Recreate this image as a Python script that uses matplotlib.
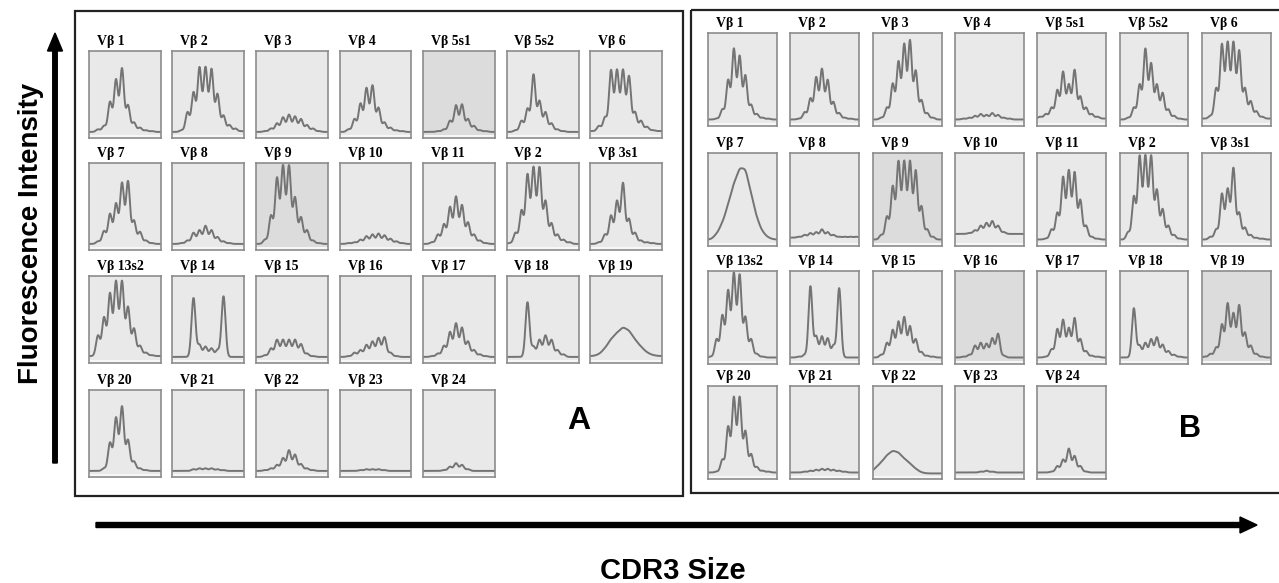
import numpy as np
import matplotlib
matplotlib.use("Agg")
import matplotlib.pyplot as plt
from matplotlib.patches import Rectangle, FancyArrow

# ---------------- data (peak heights as fraction of box height) ----------------
labels_A = [["Vβ 1", "Vβ 2", "Vβ 3", "Vβ 4", "Vβ 5s1", "Vβ 5s2", "Vβ 6"],
            ["Vβ 7", "Vβ 8", "Vβ 9", "Vβ 10", "Vβ 11", "Vβ 2", "Vβ 3s1"],
            ["Vβ 13s2", "Vβ 14", "Vβ 15", "Vβ 16", "Vβ 17", "Vβ 18", "Vβ 19"],
            ["Vβ 20", "Vβ 21", "Vβ 22", "Vβ 23", "Vβ 24"]]
labels_B = [["Vβ 1", "Vβ 2", "Vβ 3", "Vβ 4", "Vβ 5s1", "Vβ 5s2", "Vβ 6"],
            ["Vβ 7", "Vβ 8", "Vβ 9", "Vβ 10", "Vβ 11", "Vβ 2", "Vβ 3s1"],
            ["Vβ 13s2", "Vβ 14", "Vβ 15", "Vβ 16", "Vβ 17", "Vβ 18", "Vβ 19"],
            ["Vβ 20", "Vβ 21", "Vβ 22", "Vβ 23", "Vβ 24"]]

A_row1 = [[.07, .10, .14, .42, .68, .81, .38, .18, .12, .09, .08, .07],
          [.07, .09, .30, .53, .82, .82, .80, .51, .26, .15, .11, .08],
          [.07, .08, .11, .17, .24, .27, .25, .22, .15, .11, .08, .07],
          [.07, .10, .22, .40, .58, .61, .35, .18, .12, .09, .08, .07],
          [.07, .07, .08, .10, .20, .38, .39, .22, .14, .09, .08, .07],
          [.07, .09, .20, .34, .74, .43, .30, .17, .10, .08, .07, .07],
          [.08, .14, .24, .79, .79, .79, .72, .30, .20, .13, .09, .08]]
A_row2 = [[.07, .10, .22, .42, .54, .78, .80, .34, .21, .11, .08, .07],
          [.07, .08, .11, .20, .23, .28, .23, .15, .10, .08, .07, .07],
          [.07, .12, .40, .84, .98, .98, .61, .38, .23, .11, .08, .07],
          [.07, .08, .09, .12, .16, .18, .19, .17, .13, .10, .08, .07],
          [.07, .09, .18, .30, .50, .62, .52, .32, .18, .11, .08, .07],
          [.08, .20, .46, .88, .96, .96, .57, .31, .18, .12, .09, .07],
          [.07, .09, .18, .40, .57, .78, .36, .20, .11, .09, .08, .07]]
A_row3 = [[.08, .32, .53, .81, .95, .95, .65, .40, .20, .12, .09, .08],
          [.07, .07, .07, .76, .21, .19, .17, .15, .78, .07, .07, .07],
          [.07, .09, .17, .27, .27, .27, .27, .22, .11, .08, .07, .07],
          [.07, .08, .12, .15, .21, .25, .29, .30, .12, .08, .07, .07],
          [.07, .08, .11, .20, .36, .46, .41, .25, .15, .10, .08, .07],
          [.07, .07, .07, .71, .19, .27, .32, .27, .15, .10, .07, .07],
          [.08, .10, .17, .28, .35, .42, .38, .27, .19, .12, .09, .08]]
A_row4 = [[.07, .07, .10, .40, .69, .82, .43, .18, .10, .08, .07, .07],
          [.07, .07, .07, .09, .10, .10, .10, .09, .08, .07, .07, .07],
          [.07, .08, .10, .14, .22, .31, .26, .15, .10, .08, .07, .07],
          [.07, .07, .07, .08, .09, .09, .09, .08, .07, .07, .07, .07],
          [.07, .07, .07, .08, .12, .16, .14, .09, .07, .07, .07, .07]]

B_row1 = [[.07, .08, .18, .50, .84, .76, .55, .23, .13, .09, .08, .07],
          [.07, .08, .15, .30, .53, .62, .50, .26, .14, .09, .08, .07],
          [.07, .09, .20, .46, .70, .89, .93, .60, .28, .14, .09, .07],
          [.07, .08, .09, .11, .13, .12, .14, .12, .09, .08, .07, .07],
          [.10, .13, .20, .39, .59, .45, .61, .32, .20, .13, .10, .08],
          [.07, .09, .20, .45, .84, .68, .45, .36, .18, .11, .08, .07],
          [.08, .11, .41, .89, .91, .91, .82, .41, .27, .16, .10, .08]]
B_row2 = [[.07, .13, .25, .45, .68, .85, .85, .57, .30, .15, .09, .07],
          [.09, .10, .12, .14, .15, .18, .15, .12, .10, .10, .10, .10],
          [.07, .12, .32, .65, .92, .92, .92, .82, .43, .18, .10, .07],
          [.13, .13, .14, .17, .22, .25, .27, .22, .15, .13, .13, .13],
          [.07, .08, .18, .36, .75, .82, .80, .50, .22, .10, .08, .07],
          [.07, .15, .54, .98, .98, .98, .61, .40, .22, .12, .08, .07],
          [.07, .10, .18, .57, .62, .85, .36, .20, .12, .09, .08, .07]]
B_row3 = [[.08, .27, .53, .80, .99, .97, .51, .27, .11, .08, .07, .07],
          [.07, .08, .10, .85, .30, .30, .28, .20, .83, .07, .07, .07],
          [.07, .10, .23, .37, .46, .51, .41, .27, .13, .09, .08, .07],
          [.07, .08, .10, .20, .23, .22, .28, .33, .09, .07, .07, .07],
          [.07, .08, .16, .38, .48, .39, .50, .27, .14, .09, .08, .07],
          [.07, .07, .61, .20, .23, .27, .29, .21, .14, .10, .08, .07],
          [.08, .11, .18, .43, .66, .55, .64, .34, .20, .11, .08, .07]]
B_row4 = [[.07, .08, .21, .57, .89, .89, .52, .27, .13, .09, .08, .07],
          [.07, .07, .08, .09, .10, .11, .11, .10, .09, .08, .07, .07],
          [.12, .18, .26, .31, .29, .22, .17, .11, .07, .06, .06, .06],
          [.07, .07, .07, .07, .08, .09, .08, .07, .07, .07, .07, .07],
          [.07, .07, .08, .14, .21, .33, .25, .14, .08, .07, .07, .07]]

heights_A = [A_row1, A_row2, A_row3, A_row4]
heights_B = [B_row1, B_row2, B_row3, B_row4]

shaded_A = [(0, 4), (1, 2)]
shaded_B = [(1, 2), (2, 3), (2, 6)]
broad_A = [(2, 6)]
broad_B = [(1, 0), (3, 2)]

# ---------------- layout (pixels) ----------------
W, H = 1279, 583
fig = plt.figure(figsize=(W / 100, H / 100), dpi=100)
fig.patch.set_facecolor("white")

ax0 = fig.add_axes([0, 0, 1, 1])
ax0.set_xlim(0, W)
ax0.set_ylim(H, 0)
ax0.axis("off")

LABEL_FONT = dict(family=["Liberation Serif", "DejaVu Serif"], fontweight="bold", fontsize=10)
SANS = ["Liberation Sans", "DejaVu Sans"]


def spectrum(ax, h, broad):
    h = np.asarray(h, dtype=float)
    n = len(h)
    xc = (np.arange(n) + 0.5) / n
    base = h.min()
    sw = 0.55 if broad else 0.33
    s = sw / n
    k = np.arange(-6, 7)
    norm = np.exp(-0.5 * (k / sw) ** 2).sum()
    x = np.linspace(0, 1, 500)
    y = base + ((h - base)[None, :] *
                np.exp(-0.5 * ((x[:, None] - xc[None, :]) / s) ** 2)).sum(axis=1) / norm
    ax.plot(x, y, color="#747474", lw=1.4, solid_joinstyle="round")


def draw_grid(labels, heights, shaded, broad, x0, pitch_x, bw, row_tops, bh, lab_dy):
    for r, row in enumerate(labels):
        for c, lab in enumerate(row):
            left = x0 + c * pitch_x
            top = row_tops[r]
            ax = fig.add_axes([left / W, 1 - (top + bh) / H, bw / W, bh / H])
            fc = "#dcdcdc" if (r, c) in shaded else "#e9e9e9"
            ax.set_facecolor(fc)
            ax.set_xlim(0, 1)
            ax.set_ylim(0, 1)
            ax.set_xticks([])
            ax.set_yticks([])
            for sp in ax.spines.values():
                sp.set_color("#8c8c8c")
                sp.set_linewidth(1.2)
            ax.axhspan(0, 0.035, color="#f7f7f7", lw=0)
            spectrum(ax, heights[r][c], (r, c) in broad)
            ax0.text(left + 8, top - lab_dy, lab, ha="left", va="baseline", **LABEL_FONT)


# panel borders
ax0.add_patch(Rectangle((75, 11), 608, 485, fill=False, ec="#222222", lw=1.6))
ax0.add_patch(Rectangle((691, 10), 620, 483, fill=False, ec="#222222", lw=1.6))

draw_grid(labels_A, heights_A, shaded_A, broad_A,
          89, 83.5, 72, [51, 163, 276, 390], 87, 6)
draw_grid(labels_B, heights_B, shaded_B, broad_B,
          708, 82.3, 69, [33, 153, 271, 386], 93, 6)

# arrows
ax0.add_patch(FancyArrow(55, 463, 0, -430, width=4.5, head_width=15, head_length=18,
                         length_includes_head=True, color="black"))
ax0.add_patch(FancyArrow(96, 525, 1161, 0, width=5, head_width=16, head_length=17,
                         length_includes_head=True, color="black"))

# texts
ax0.text(31, 233, "Fluorescence Intensity", rotation=90, ha="center", va="center",
         fontsize=20, fontweight="bold", family=SANS)
ax0.text(673, 571, "CDR3 Size", ha="center", va="center",
         fontsize=21, fontweight="bold", family=SANS)
ax0.text(579, 421, "A", ha="center", va="center", fontsize=23, fontweight="bold", family=SANS)
ax0.text(1190, 429, "B", ha="center", va="center", fontsize=22, fontweight="bold", family=SANS)

fig.savefig("out.png", dpi=100, facecolor="white")
